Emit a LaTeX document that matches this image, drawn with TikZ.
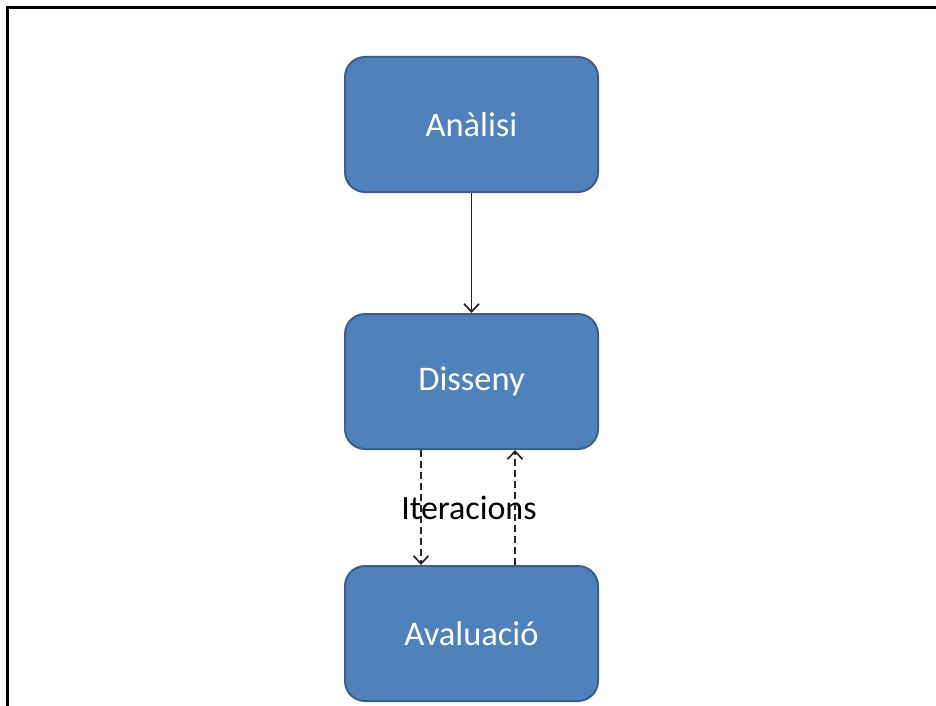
\documentclass[tikz,border=0pt]{standalone}
\usepackage{fontspec}
\setmainfont{Carlito}
\usetikzlibrary{arrows.meta}
\definecolor{boxfill}{HTML}{4F81BD}
\definecolor{boxline}{HTML}{3A5F8B}
\tikzset{
  stage/.style={draw=boxline, line width=2pt, fill=boxfill, rounded corners=20pt,
    minimum width=253pt, minimum height=135pt, inner sep=0pt,
    text=white, font=\fontsize{34.5}{38}\selectfont},
  flow/.style={line width=1.9pt, draw=black!85, -{Straight Barb[length=8pt,width=15pt,line width=1.7pt]}},
  iter/.style={flow, dash pattern=on 7pt off 4pt},
}
\begin{document}
\begin{tikzpicture}[x=1pt, y=-1pt]
  \useasboundingbox (0,0) rectangle (936,706);
  \fill[white] (0,0) rectangle (936,706);
  \begin{scope}
    \clip (0,0) rectangle (936,706);
    % frame, left and top edges
    \draw[line width=2.8pt, black] (7.5,720) -- (7.5,7.5) -- (950,7.5);
    \node[stage] (ana) at (471.5,124.5) {Anàlisi};
    \node[stage] (dis) at (471.5,381.5) {Disseny};
    \node[stage] (ava) at (471.5,633.5) {Avaluació};
  \end{scope}
  \draw[flow] (ana.south) -- (dis.north);
  \draw[iter] ([xshift=-50.5pt]dis.south) -- ([xshift=-50.5pt]ava.north);
  \draw[iter] ([xshift=43.5pt]ava.north) -- ([xshift=43.5pt]dis.south);
  \node[font=\fontsize{34}{38}\selectfont, text=black] (it) at (469,508) {Iteracions};
\end{tikzpicture}
\end{document}
